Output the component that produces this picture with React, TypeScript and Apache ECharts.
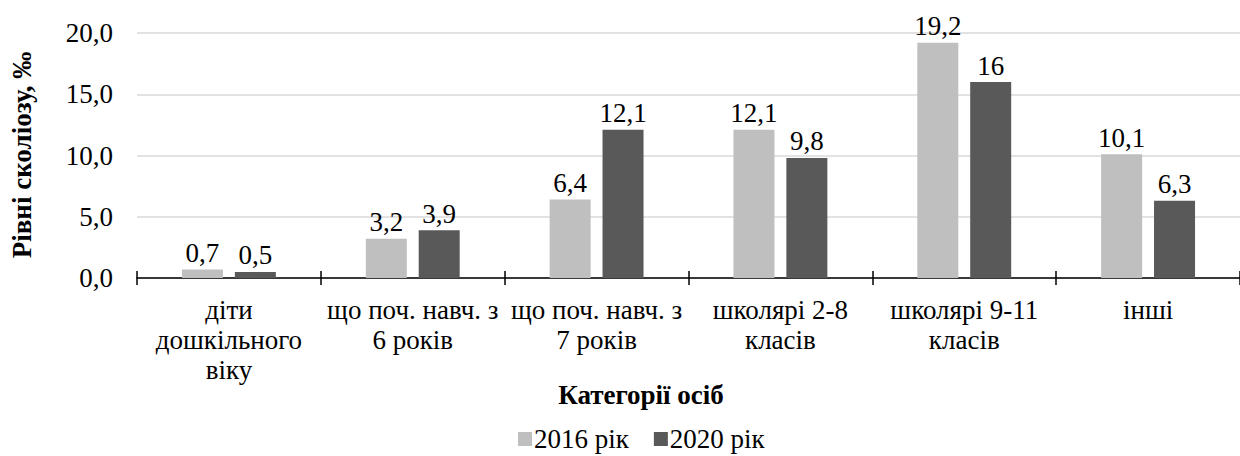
import React, { useEffect, useRef } from "react";
import * as echarts from "echarts";

const categories = [
  "діти\nдошкільного\nвіку",
  "що поч. навч. з\n6 років",
  "що поч. навч. з\n7 років",
  "школярі 2-8\nкласів",
  "школярі 9-11\nкласів",
  "інші",
];
const series2016 = [0.7, 3.2, 6.4, 12.1, 19.2, 10.1];
const series2020 = [0.5, 3.9, 12.1, 9.8, 16, 6.3];
const seriesNames = ["2016 рік", "2020 рік"];
const yTicks = { min: 0, max: 20, interval: 5 };
const yTitle = "Рівні сколіозу, ‰";
const xTitle = "Категорії осіб";

const FONT = "Liberation Serif";
const FS = 27;

export default function App() {
  const ref = useRef<HTMLDivElement>(null);
  useEffect(() => {
    document.body.style.margin = "0";
    const chart = echarts.init(ref.current!, null, { renderer: "svg" });
    const fmt = (v: number) => String(v).replace(".", ",");
    const label = {
      show: true,
      position: "top",
      distance: 3,
      color: "#000",
      fontFamily: FONT,
      fontSize: FS,
      formatter: (p: any) => fmt(p.value),
    };
    chart.setOption({
      animation: false,
      grid: { left: 137, top: 33, width: 1110, height: 245, containLabel: false },
      legend: {
        data: seriesNames,
        left: 518,
        top: 425,
        padding: 0,
        itemWidth: 14,
        itemHeight: 14,
        itemGap: 25,
        icon: "rect",
        textStyle: { fontFamily: FONT, fontSize: FS, lineHeight: 28, color: "#000", padding: [0, 0, 0, -3] },
      },
      xAxis: [
        {
          type: "category",
          data: categories,
          axisLine: { lineStyle: { color: "#000", width: 1.5 } },
          axisTick: { show: true, length: 7, lineStyle: { color: "#000", width: 1.5 } },
          axisLabel: {
            color: "#000",
            fontFamily: FONT,
            fontSize: FS,
            lineHeight: 30,
            margin: 17,
            interval: 0,
          },
        },
        {
          type: "category",
          data: categories,
          position: "bottom",
          axisLine: { show: false },
          axisTick: { show: true, inside: true, length: 7, lineStyle: { color: "#000", width: 1.5 } },
          axisLabel: { show: false },
        },
      ],
      yAxis: {
        type: "value",
        min: yTicks.min,
        max: yTicks.max,
        interval: yTicks.interval,
        axisLine: { show: false },
        axisTick: { show: false },
        splitLine: { lineStyle: { color: "#D9D9D9", width: 1.5 } },
        axisLabel: {
          color: "#000",
          fontFamily: FONT,
          fontSize: FS,
          margin: 24,
          formatter: (v: number) => v.toFixed(1).replace(".", ","),
        },
      },
      graphic: [
        {
          type: "text",
          x: 22,
          y: 155,
          rotation: Math.PI / 2,
          style: {
            text: yTitle,
            fontFamily: FONT,
            fontSize: FS,
            fontWeight: "bold",
            fill: "#000",
            textAlign: "center",
            textVerticalAlign: "middle",
          },
        },
        {
          type: "text",
          x: 641,
          y: 395,
          style: {
            text: xTitle,
            fontFamily: FONT,
            fontSize: FS,
            fontWeight: "bold",
            fill: "#000",
            textAlign: "center",
            textVerticalAlign: "middle",
          },
        },
      ],
      series: [
        {
          name: seriesNames[0],
          type: "bar",
          data: series2016,
          barWidth: 41,
          barGap: "29%",
          itemStyle: { color: "#BFBFBF" },
          label,
        },
        {
          name: seriesNames[1],
          type: "bar",
          data: series2020,
          barWidth: 41,
          barGap: "29%",
          itemStyle: { color: "#595959" },
          label,
        },
      ],
    });
    return () => chart.dispose();
  }, []);
  return <div ref={ref} style={{ width: 1240, height: 456 }} />;
}
